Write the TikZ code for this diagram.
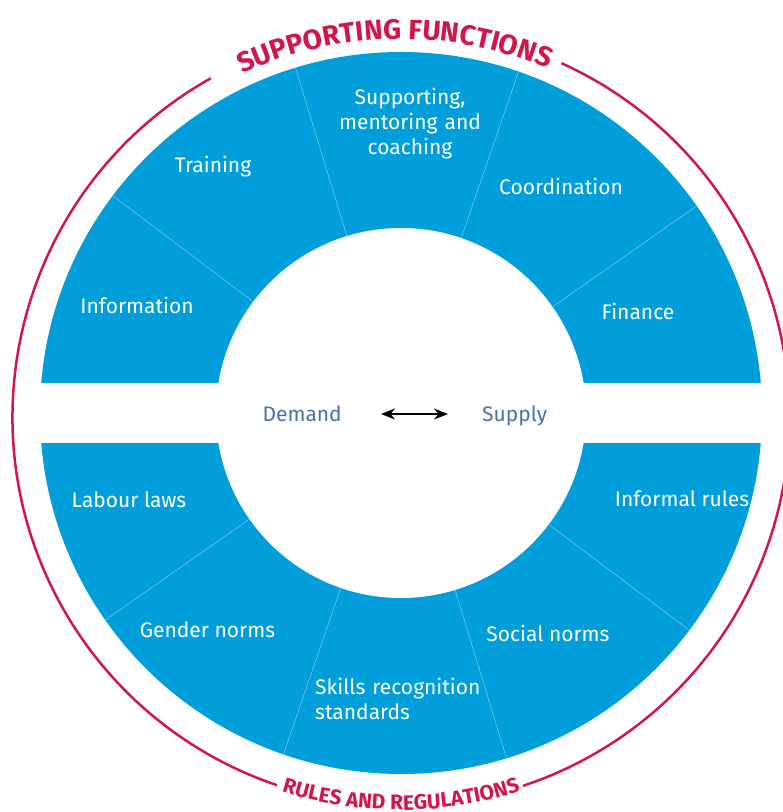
\documentclass[tikz,border=0pt]{standalone}
\usepackage{fontspec}
\setmainfont{Fira Sans}
\newfontfamily\titlefont{Fira Sans}
\usetikzlibrary{decorations.text, arrows.meta, calc}
\definecolor{segblue}{RGB}{0,159,219}
\definecolor{divline}{RGB}{110,195,235}
\definecolor{rfred}{RGB}{210,22,75}
\definecolor{dsblue}{RGB}{72,114,176}
\begin{document}
\begin{tikzpicture}[x=1pt,y=1pt,
  seglabel/.style={text=white, font=\fontsize{21}{25}\selectfont, inner sep=0pt, anchor=base},
  dslabel/.style={text=dsblue, font=\fontsize{21}{25}\selectfont, inner sep=0pt, text height=16pt, text depth=0pt},
  divider/.style={draw=divline, line width=0.6pt},
  redarc/.style={draw=rfred, line width=2.5pt},
  dsarrow/.style={{Stealth[length=14pt,width=11pt]}-{Stealth[length=14pt,width=11pt]}, line width=2pt, black}]
\useasboundingbox (0,0) rectangle (783,812);
\coordinate (bc) at (401,399);
\coordinate (rc) at (401,395);
% ring
\fill[segblue] (bc) circle[radius=361];
\fill[white] (bc) circle[radius=185];
\fill[white] (0,369) rectangle (783,429);
\foreach \a in {35,71,107,143,-37,-73,-109,-145}
  \draw[divider] ($(bc)+(\a:185)$) -- ($(bc)+(\a:361)$);
% red outer arcs
\draw[redarc] ($(rc)+(65.6:388.5)$) arc[start angle=65.6, end angle=-71.7, radius=388.5];
\draw[redarc] ($(rc)+(119.3:388.5)$) arc[start angle=119.3, end angle=251.4, radius=388.5];
% titles
\path[decorate, decoration={text along path, text align=center, text color=rfred,
  text={|\titlefont\bfseries\fontsize{28pt}{28pt}\selectfont|SUPPORTING FUNCTIONS}}]
  ($(rc)+(121:378)$) arc[start angle=121, end angle=61, radius=378];
\path[decorate, decoration={text along path, text align=center, text color=rfred,
  text={|\titlefont\bfseries\fontsize{21pt}{21pt}\selectfont|RULES AND REGULATIONS}}]
  ($(rc)+(240:393)$) arc[start angle=240, end angle=300, radius=393];
% labels
\node[seglabel] (info) at (137,498.7) {Information};
\node[seglabel] (train) at (213,639.3) {Training};
\node[seglabel, text width=160pt, align=center] (supp) at (410,707.7) {Supporting,\\ mentoring and\\ coaching};
\node[seglabel] (coord) at (561,617) {Coordination};
\node[seglabel] (fin) at (638,492) {Finance};
\node[seglabel] (labour) at (129,304.3) {Labour laws};
\node[seglabel] (gender) at (207.5,174.7) {Gender norms};
\node[seglabel, anchor=base west, text width=170pt, align=left] (skills) at (315,117) {Skills recognition\\ standards};
\node[seglabel] (social) at (548,170.3) {Social norms};
\node[seglabel] (informal) at (682,305.3) {Informal rules};
% centre
\node[dslabel, anchor=base east] (demand) at (342,390) {Demand};
\node[dslabel, anchor=base west] (supply) at (482,390) {Supply};
\draw[dsarrow, shorten <=39pt, shorten >=34pt] (demand) -- (supply);
\end{tikzpicture}
\end{document}
